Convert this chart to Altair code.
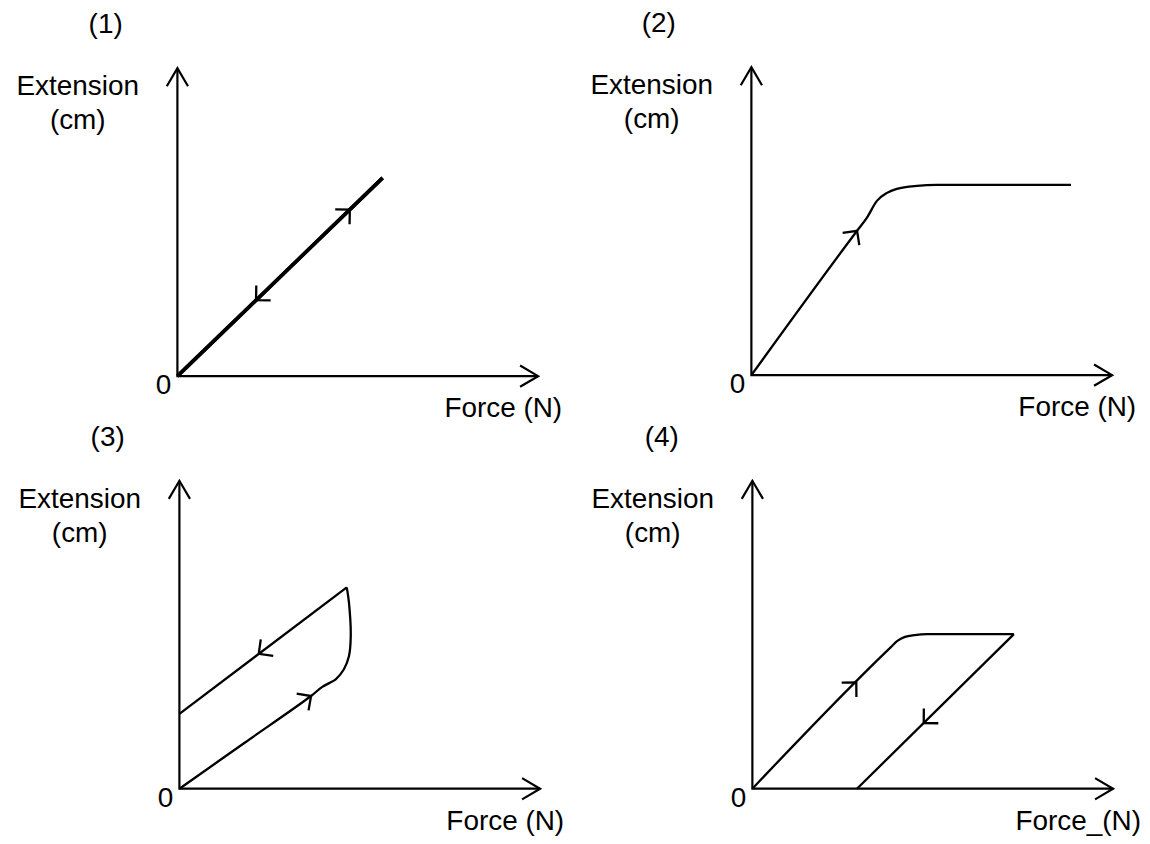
import math
import altair as alt
import pandas as pd

FONT = "Liberation Sans"
FONT_SIZE = 28
PANEL_W, PANEL_H = 567, 414
PX_X, PX_Y = 36.2, 30.9          # pixels per diagram unit (axes run 0..10)

# ---------------- text ----------------
panel_titles = ["(1)", "(2)", "(3)", "(4)"]
y_title_lines = ["Extension", "(cm)"]
x_titles = ["Force (N)", "Force (N)", "Force (N)", "Force_(N)"]
origin_label = "0"

# ---------------- axes (units) ----------------
axis_x = [0, 0, 10]
axis_y = [10, 0, 0]
axis_tip_x = [10, 0]
axis_tip_y = [0, 10]
axis_tip_angle = [0, 270]

# ---------------- panel 1: straight line, loading and unloading ----------------
p1_load_x = [0, 5.69]
p1_load_y = [0, 6.44]
p1_unload_x = [5.69, 0]
p1_unload_y = [6.44, 0]
p1_arrow_up = (4.78, 5.41)
p1_arrow_down = (2.18, 2.47)

# ---------------- panel 2: linear then levelling off ----------------
p2_load_x = [0, 2.93, 3.20, 3.48, 3.76, 4.03, 4.59, 5.14, 8.86]
p2_load_y = [0, 4.69, 5.11, 5.66, 5.92, 6.05, 6.15, 6.18, 6.18]
p2_arrow = (2.93, 4.69)

# ---------------- panel 3: loop back to positive extension ----------------
p3_load_x = [0, 1.80, 3.65, 3.95, 4.34, 4.56, 4.70, 4.75, 4.70, 4.64]
p3_load_y = [0, 1.485, 3.01, 3.30, 3.56, 3.88, 4.30, 4.95, 6.05, 6.54]
p3_unload_x = [4.64, 0]
p3_unload_y = [6.54, 2.43]
p3_arrow_up = (3.65, 3.01)
p3_arrow_down = (2.20, 4.38)

# ---------------- panel 4: plastic deformation ----------------
p4_load_x = [0, 3.84, 4.02, 4.23, 4.50, 4.85, 7.25]
p4_load_y = [0, 4.60, 4.80, 4.93, 4.99, 5.02, 5.02]
p4_unload_x = [7.25, 2.90]
p4_unload_y = [5.02, 0]
p4_arrow_up = (2.88, 3.45)
p4_arrow_down = (4.75, 2.13)

CURVE_HEAD = "M-1,-1L0,0L-1,1"
AXIS_HEAD = "M-1.7,-1L0,0L-1.7,1"


def seg_angle(xs, ys, ax, ay):
    """Screen angle (deg, clockwise) of the polyline segment nearest to (ax, ay)."""
    best = None
    for i in range(len(xs) - 1):
        vx = (xs[i + 1] - xs[i]) * PX_X
        vy = (ys[i + 1] - ys[i]) * PX_Y
        wx = (ax - xs[i]) * PX_X
        wy = (ay - ys[i]) * PX_Y
        l2 = vx * vx + vy * vy
        t = max(0.0, min(1.0, (wx * vx + wy * vy) / l2))
        d = (wx - t * vx) ** 2 + (wy - t * vy) ** 2
        if best is None or d < best[0] - 1e-9:
            best = (d, vx, vy)
    return math.degrees(math.atan2(-best[2], best[1])) % 360


panels = [
    dict(origin=(170, 368), title_dx=-72, lw=3.6,
         curves=[(p1_load_x, p1_load_y, "linear"), (p1_unload_x, p1_unload_y, "linear")],
         arrows=[(p1_load_x, p1_load_y, p1_arrow_up), (p1_unload_x, p1_unload_y, p1_arrow_down)]),
    dict(origin=(179, 367), title_dx=-93, lw=2.3,
         curves=[(p2_load_x, p2_load_y, "monotone")],
         arrows=[(p2_load_x, p2_load_y, p2_arrow)]),
    dict(origin=(172, 368), title_dx=-72, lw=2.3,
         curves=[(p3_load_x, p3_load_y, "catmull-rom"), (p3_unload_x, p3_unload_y, "linear")],
         arrows=[(p3_load_x, p3_load_y, p3_arrow_up), (p3_unload_x, p3_unload_y, p3_arrow_down)]),
    dict(origin=(180, 368), title_dx=-91, lw=2.3,
         curves=[(p4_load_x, p4_load_y, "monotone"), (p4_unload_x, p4_unload_y, "linear")],
         arrows=[(p4_load_x, p4_load_y, p4_arrow_up), (p4_unload_x, p4_unload_y, p4_arrow_down)]),
]


def make_panel(i, spec):
    ox, oy = spec["origin"]
    xs = alt.Scale(domain=[-ox / PX_X, (PANEL_W - ox) / PX_X], nice=False, zero=False)
    ys = alt.Scale(domain=[-(PANEL_H - oy) / PX_Y, oy / PX_Y], nice=False, zero=False)
    X = alt.X("x:Q", scale=xs, axis=None)
    Y = alt.Y("y:Q", scale=ys, axis=None)
    layers = []

    axes_df = pd.DataFrame({"x": axis_x, "y": axis_y, "o": list(range(len(axis_x)))})
    layers.append(alt.Chart(axes_df).mark_line(color="black", strokeWidth=2.2)
                  .encode(x=X, y=Y, order="o:Q"))
    tips_df = pd.DataFrame({"x": axis_tip_x, "y": axis_tip_y, "a": axis_tip_angle})
    layers.append(alt.Chart(tips_df).mark_point(shape=AXIS_HEAD, size=454, filled=False,
                                                color="black", strokeWidth=2.2, opacity=1)
                  .encode(x=X, y=Y, angle=alt.Angle("a:Q", scale=None)))

    for cx, cy, interp in spec["curves"]:
        df = pd.DataFrame({"x": cx, "y": cy, "o": list(range(len(cx)))})
        layers.append(alt.Chart(df).mark_line(color="black", strokeWidth=spec["lw"],
                                              interpolate=interp, strokeJoin="round")
                      .encode(x=X, y=Y, order="o:Q"))

    ax_, ay_, aa_ = [], [], []
    for cx, cy, (px, py) in spec["arrows"]:
        ax_.append(px)
        ay_.append(py)
        aa_.append(seg_angle(cx, cy, px, py))
    arr_df = pd.DataFrame({"x": ax_, "y": ay_, "a": aa_})
    layers.append(alt.Chart(arr_df).mark_point(shape=CURVE_HEAD, size=430, filled=False,
                                               color="black", strokeWidth=2.3, opacity=1)
                  .encode(x=X, y=Y, angle=alt.Angle("a:Q", scale=None)))

    labels = [
        (panel_titles[i], spec["title_dx"], -344),
        (y_title_lines[0], -100, -282),
        (y_title_lines[1], -100, -248),
        (origin_label, -14, 18),
        (x_titles[i], 327, 41),
    ]
    for text, dx, dy in labels:
        tdf = pd.DataFrame({"x": [0], "y": [0], "t": [text]})
        layers.append(alt.Chart(tdf).mark_text(font=FONT, fontSize=FONT_SIZE, align="center",
                                               baseline="alphabetic", dx=dx, dy=dy, color="black")
                      .encode(x=X, y=Y, text="t:N"))

    return alt.layer(*layers).properties(width=PANEL_W, height=PANEL_H)


charts = [make_panel(i, s) for i, s in enumerate(panels)]
chart = (alt.concat(*charts, columns=2, spacing=0, bounds="flush")
         .properties(padding=0, background="white")
         .configure_view(stroke=None))

chart.save("out.html", embed_options={"renderer": "svg", "actions": False})
